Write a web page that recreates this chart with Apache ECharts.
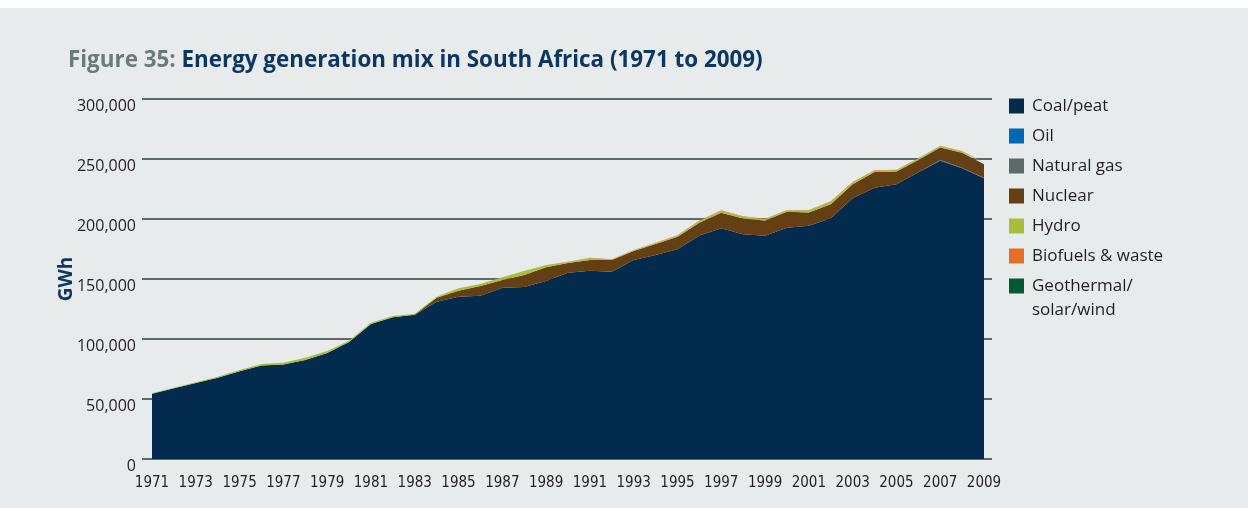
<!DOCTYPE html>
<html>
<head>
<meta charset="utf-8">
<script src="https://cdn.jsdelivr.net/npm/echarts@6/dist/echarts.min.js"></script>
<style>
  html, body { margin: 0; padding: 0; background: #ffffff; }
  #panel { position: absolute; left: 0; top: 8px; width: 1248px; height: 500px; background: #e7ebec; }
  #chart { position: absolute; left: 0; top: 0; width: 1248px; height: 508px; }
</style>
</head>
<body>
<div id="panel"></div>
<div id="chart"></div>
<script>
// Electricity generation in South Africa by source, GWh per year
const years = ['1971', '1972', '1973', '1974', '1975', '1976', '1977', '1978', '1979', '1980',
               '1981', '1982', '1983', '1984', '1985', '1986', '1987', '1988', '1989', '1990',
               '1991', '1992', '1993', '1994', '1995', '1996', '1997', '1998', '1999', '2000',
               '2001', '2002', '2003', '2004', '2005', '2006', '2007', '2008', '2009'];

const coalPeat = [54300, 58900, 63300, 67800, 73200, 78000, 78800, 82600, 88400, 97600,
                  112400, 118200, 120200, 131000, 135200, 136000, 142800, 143300, 148300, 155300,
                  156900, 156100, 165800, 170000, 174700, 186200, 192200, 187200, 186100, 192800,
                  194400, 200600, 217200, 226100, 228900, 238900, 248600, 242200, 233900];

const oil = [0, 0, 0, 0, 0, 0, 0, 0, 0, 0,
             0, 0, 0, 0, 0, 0, 0, 0, 0, 0,
             0, 0, 0, 0, 0, 0, 0, 0, 0, 0,
             0, 0, 0, 0, 0, 100, 600, 600, 300];

const naturalGas = [0, 0, 0, 0, 0, 0, 0, 0, 0, 0,
                    0, 0, 0, 0, 0, 0, 0, 0, 0, 0,
                    0, 0, 0, 0, 0, 0, 0, 0, 0, 0,
                    0, 0, 0, 0, 0, 0, 0, 0, 0];

const nuclear = [0, 0, 0, 0, 0, 0, 0, 0, 0, 0,
                 0, 0, 0, 3300, 5100, 8200, 6400, 10000, 11400, 8000,
                 8900, 9700, 7500, 9200, 10600, 10600, 13000, 13200, 12700, 13200,
                 11100, 11600, 11800, 13000, 10700, 10200, 10400, 12400, 11500];

const hydro = [400, 500, 600, 800, 1000, 1200, 1500, 1800, 1600, 1000,
               1200, 1000, 800, 1000, 1900, 1600, 2200, 3300, 2000, 800,
               1700, 300, 600, 800, 800, 1600, 1700, 1500, 1200, 1200,
               1700, 2200, 1500, 1200, 1200, 1200, 1200, 1200, 1200];

const biofuelsWaste = [0, 0, 0, 0, 0, 0, 0, 0, 0, 0,
                       0, 0, 0, 0, 0, 0, 0, 0, 0, 300,
                       300, 300, 300, 300, 300, 300, 300, 300, 300, 300,
                       300, 300, 300, 300, 300, 300, 300, 300, 300];

const geoSolarWind = [0, 0, 0, 0, 0, 0, 0, 0, 0, 0,
                      0, 0, 0, 0, 0, 0, 0, 0, 0, 0,
                      0, 0, 0, 0, 0, 0, 0, 0, 0, 0,
                      0, 10, 10, 10, 20, 20, 30, 30, 30];

const yTicks = [0, 50000, 100000, 150000, 200000, 250000, 300000];

const sources = [
  { name: 'Coal/peat', values: coalPeat, color: '#022b4e' },
  { name: 'Oil', values: oil, color: '#0069b4' },
  { name: 'Natural gas', values: naturalGas, color: '#5b6968' },
  { name: 'Nuclear', values: nuclear, color: '#633f13' },
  { name: 'Hydro', values: hydro, color: '#a8bd3a' },
  { name: 'Biofuels & waste', values: biofuelsWaste, color: '#e66f26' },
  { name: 'Geothermal/solar/wind', values: geoSolarWind, color: '#005a33' }
];

const chart = echarts.init(document.getElementById('chart'), null, { renderer: 'canvas' });

const labelFont = "'Open Sans', 'Noto Sans', sans-serif";
const legendText = { fontFamily: labelFont, fontSize: 17, color: '#231f20', lineHeight: 20, padding: [0, 0, 0, 3] };
const legendCommon = {
  orient: 'vertical',
  left: 1009,
  padding: 0,
  itemWidth: 15,
  itemHeight: 15,
  itemGap: 10,
  icon: 'rect',
  selectedMode: false
};

const yMax = yTicks[yTicks.length - 1];
const yStep = yTicks[1] - yTicks[0];

chart.setOption({
  backgroundColor: 'transparent',
  animation: false,
  graphic: [{
    type: 'text',
    left: 68,
    top: 50,
    style: {
      text: '{a|Figure 35: }{b|Energy generation mix in South Africa (1971 to 2009)}',
      rich: {
        a: { fontFamily: labelFont, fontWeight: 'bold', fontSize: 22.4, fill: '#6b7a7a' },
        b: { fontFamily: labelFont, fontWeight: 'bold', fontSize: 22.4, fill: '#0d3761' }
      }
    }
  }],
  legend: [
    Object.assign({}, legendCommon, {
      top: 96,
      data: sources.slice(0, 6).map(s => s.name),
      textStyle: legendText
    }),
    Object.assign({}, legendCommon, {
      top: 250,
      data: [sources[6].name],
      // blank first line keeps the swatch level with "Geothermal/"
      formatter: () => ' \nGeothermal/\nsolar/wind',
      textStyle: Object.assign({}, legendText, { lineHeight: 24 })
    })
  ],
  grid: [
    // outer frame carrying the value scale and horizontal rules
    { left: 142, right: 256, top: 99, bottom: 49 },
    // inner frame carrying the stacked areas
    { left: 152, right: 264, top: 99, bottom: 49 }
  ],
  xAxis: [
    { gridIndex: 0, type: 'value', min: 0, max: 1, show: false },
    {
      gridIndex: 1,
      type: 'category',
      data: years,
      boundaryGap: false,
      axisLine: { show: false },
      axisTick: { show: false },
      axisLabel: {
        interval: 1,
        fontFamily: "'Liberation Sans Narrow', 'DejaVu Sans Condensed', sans-serif",
        fontSize: 15,
        color: '#231f20',
        margin: 17
      }
    }
  ],
  yAxis: [
    {
      gridIndex: 0,
      type: 'value',
      min: 0,
      max: yMax,
      interval: yStep,
      name: 'GWh',
      nameLocation: 'middle',
      nameRotate: 90,
      nameGap: 66,
      nameMoveOverlap: false,
      nameTextStyle: { fontFamily: labelFont, fontWeight: 'bold', fontSize: 19, color: '#0d3761' },
      axisLine: { show: false },
      axisTick: { show: false },
      splitLine: { lineStyle: { color: '#5f6a6a', width: 2 } },
      axisLabel: {
        formatter: v => v.toLocaleString('en-US'),
        fontFamily: labelFont,
        fontSize: 16,
        color: '#231f20',
        margin: 6,
        verticalAlign: 'top',
        lineHeight: 14
      }
    },
    { gridIndex: 1, type: 'value', min: 0, max: yMax, interval: yStep, show: false, splitLine: { show: false } }
  ],
  series: sources.map(s => ({
    name: s.name,
    type: 'line',
    xAxisIndex: 1,
    yAxisIndex: 1,
    stack: 'total',
    symbol: 'none',
    showSymbol: false,
    color: s.color,
    lineStyle: { width: 0 },
    areaStyle: { color: s.color, opacity: 1 },
    data: s.values
  }))
});
</script>
</body>
</html>
